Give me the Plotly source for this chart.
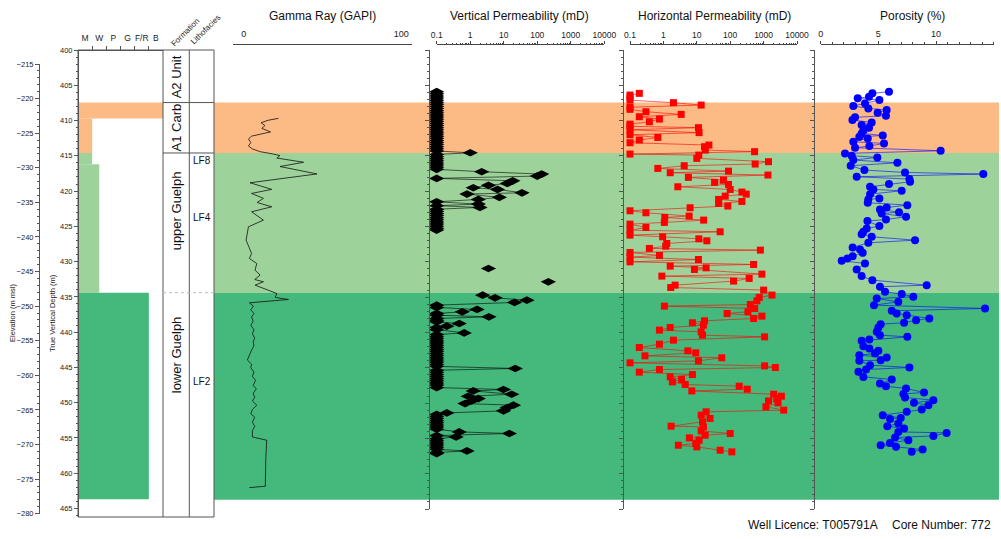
import plotly.graph_objects as go

W, H = 1001, 539
def px(x): return x / W
def py(y): return 1 - y / H

FONT = "Liberation Sans, Arial, sans-serif"
AX = "#555555"

# ---------------- data ----------------
# formation bands (TVD, m)
band_tops = [407.45, 414.6, 434.4]
band_bases = [414.6, 434.4, 463.7]
band_colors = ["#FCBA85", "#9DD39B", "#45B97C"]

formation_names = ["A2 Unit", "A1 Carb", "upper Guelph", "lower Guelph"]
formation_label_depths = [403.8, 411.05, 422.8, 443.2]
lithofacies_names = ["LF8", "LF4", "LF2"]
lithofacies_label_depths = [415.6, 423.7, 447.0]
formation_lines = [407.45, 414.6]
guelph_contact = 434.4

# Dunham texture column
dunham_labels = ["M", "W", "P", "G", "F/R", "B"]
dunham_label_pos = [0.5, 1.5, 2.5, 3.5, 4.5, 5.5]
dunham_tick_pos = [1, 2, 3, 4, 5]
dunham_top = [407.45, 409.7, 414.6, 416.2, 434.4]
dunham_base = [409.7, 414.6, 416.2, 434.4, 463.7]
dunham_texture = [6, 1, 1, 1.5, 5]
dunham_colors = ["#FCBA85", "#FCBA85", "#9DD39B", "#9DD39B", "#45B97C"]

tvd_range = [466.2, 400]
track_range = [465, 400]
elev_range = [-280, -215]

# Gamma ray (depth m, GAPI)
gamma = [(409.68, 22.0), (409.95, 15.5), (410.3, 11.0), (410.7, 13.5), (411.1, 11.5),
         (411.6, 17.0), (412.2, 5.0), (412.6, 3.0), (413.1, 4.5), (413.6, 3.0),
         (414.0, 5.5), (414.4, 10.5), (414.7, 18.0), (414.95, 23.0), (415.3, 21.0),
         (415.9, 38.0), (416.5, 23.0), (417.55, 46.5), (418.8, 4.0), (419.74, 17.8),
         (420.31, 5.0), (421.01, 12.5), (421.6, 8.5), (422.2, 17.8), (422.91, 5.0),
         (424.09, 12.5), (425.04, 3.0), (426.0, 2.0), (426.92, 1.5), (428.0, 3.5),
         (428.81, 5.0), (429.52, 3.6), (430.23, 8.3), (431.17, 7.2), (431.88, 10.4),
         (432.5, 7.0), (432.82, 12.5), (433.3, 7.2), (434.48, 21.0), (435.04, 20.0),
         (435.33, 28.4), (435.8, 3.6), (436.27, 6.1), (436.8, 4.5), (437.3, 6.5),
         (437.8, 5.0), (438.4, 6.0), (439.0, 4.5), (439.6, 6.5), (440.2, 5.5),
         (440.8, 7.0), (441.3, 6.0), (441.9, 6.5), (442.5, 5.0), (443.1, 4.0),
         (443.9, 2.3), (444.5, 5.0), (445.0, 4.5), (445.6, 6.5), (446.2, 5.5),
         (446.8, 7.5), (447.5, 6.0), (448.0, 8.0), (448.6, 6.0), (449.2, 7.0),
         (449.7, 5.5), (450.3, 8.3), (450.9, 5.5), (451.5, 4.5), (452.0, 7.0),
         (452.7, 5.5), (453.3, 7.0), (453.9, 5.5), (454.8, 5.5), (455.26, 14.6),
         (458.0, 14.0), (461.78, 13.7), (461.97, 3.6)]

# Vertical permeability (depth m, mD); None = no sample (line break)
vperm = [(405.9, 0.1), (406.2, 0.1), (406.5, 0.1), (406.8, 0.1), (407.1, 0.1), (407.4, 0.1),
         (407.7, 0.1), (408.0, 0.1), (408.3, 0.1), (408.6, 0.1), (408.9, 0.1), (409.2, 0.1),
         (409.5, 0.1), (409.8, 0.1), (410.1, 0.1), (410.4, 0.1), (410.7, 0.1), (411.0, 0.1),
         (411.3, 0.1), (411.6, 0.1), (411.9, 0.1), (412.2, 0.1), (412.5, 0.1), (412.8, 0.1),
         (413.1, 0.1), (413.4, 0.1), (413.7, 0.1), (414.0, 0.1), (414.3, 0.1), (414.55, 1.0),
         (414.8, 0.1), (415.1, 0.1), (415.4, 0.1), (415.7, 0.1), (416.0, 0.1), (416.3, 0.1),
         (416.6, 0.1), (416.9, 0.1), (417.24, 2.2), (417.57, 135), (417.85, 100), (418.18, 0.1),
         (418.52, 18.6), (418.9, 12.7), (419.17, 3.5), (419.51, 1.23), (419.74, 6.5), (420.22, 35),
         (420.4, 0.8), (420.87, 7.4), (421.16, 1.74), (421.5, 0.1), (421.82, 1.74), (422.05, 0.1),
         (422.29, 1.95), (422.55, 0.1), (422.85, 0.1), (423.15, 0.1), (423.45, 0.1), (423.75, 0.1),
         (424.05, 0.1), (424.35, 0.1), (424.65, 0.1), (424.95, 0.1), (425.25, 0.1), (425.5, 0.1),
         (None, None), (430.94, 3.5), (None, None), (432.83, 214), (None, None),
         (434.72, 2.35), (435.1, 5.5), (435.43, 49), (435.75, 21), (436.13, 0.1), (436.45, 0.1),
         (436.74, 1.6), (437.08, 0.58), (437.31, 0.1), (437.55, 0.1), (437.79, 3.6), (438.02, 0.1),
         (438.26, 0.1), (438.5, 0.1), (438.73, 0.47), (439.11, 0.2), (439.3, 0.1), (439.6, 0.1),
         (440.06, 0.66), (440.3, 0.1), (440.6, 0.1), (440.9, 0.1), (441.2, 0.1), (441.5, 0.1),
         (441.8, 0.1), (442.1, 0.1), (442.4, 0.1), (442.7, 0.1), (443.0, 0.1), (443.3, 0.1),
         (443.6, 0.1), (443.9, 0.1), (444.2, 0.1), (444.5, 0.1), (444.8, 0.1), (445.1, 22),
         (445.35, 0.1), (445.65, 0.1), (445.95, 0.1), (446.25, 0.1), (446.55, 0.1), (446.85, 0.1),
         (447.15, 0.1), (447.45, 0.1), (447.8, 0.1), (448.08, 9.8), (448.28, 1.23), (448.75, 17.3),
         (449.03, 0.87), (449.36, 1.74), (449.7, 1.1), (450.07, 0.7), (450.3, 19.4), (450.63, 12.8),
         (451.1, 9.8), (451.39, 0.2), (451.6, 0.1), (451.9, 0.1), (452.2, 0.1), (452.5, 0.1),
         (452.8, 0.1), (453.1, 0.1), (453.4, 0.1), (453.7, 0.1), (454.08, 0.47), (454.31, 14.7),
         (454.6, 0.1), (454.8, 0.38), (455.05, 0.1), (455.35, 0.1), (455.65, 0.1), (455.95, 0.1),
         (456.25, 0.1), (456.55, 0.1), (456.78, 0.8), (457.0, 0.1), (457.15, 0.1)]

# Horizontal permeability (depth m, mD)
hperm = [(406.14, 0.19), (406.38, 0.1), (406.75, 0.1), (407.1, 0.1), (407.46, 2.0), (407.8, 13.5),
         (408.1, 0.1), (408.4, 0.1), (408.74, 0.3), (409.12, 3.4), (409.45, 0.19), (409.78, 0.76),
         (410.16, 0.38), (410.5, 0.1), (410.8, 0.1), (411.0, 11.2), (411.3, 0.1), (411.7, 11.7),
         (412.0, 0.1), (412.38, 0.68), (412.75, 0.19), (413.13, 0.1), (413.46, 23), (413.7, 17),
         (414.17, 18), (414.4, 537), (414.74, 0.1), (414.88, 11.5), (415.35, 10), (415.82, 1400),
         (416.15, 560), (416.39, 4.2), (416.77, 0.68), (417.15, 89), (417.38, 1.6), (417.71, 1350),
         (418.04, 5.6), (418.42, 63), (418.75, 34), (419.04, 89), (419.37, 2.7), (419.75, 100),
         (420.12, 224), (420.41, 302), (420.69, 71), (421.16, 45), (421.45, 224), (421.73, 45),
         (422.1, 85), (422.34, 6.3), (422.77, 0.1), (423.05, 0.3), (423.52, 5.9), (423.71, 1.1),
         (424.09, 16), (424.42, 1.07), (424.66, 0.1), (425.13, 0.3), (425.51, 0.1), (425.74, 50),
         (426.22, 0.1), (426.45, 0.95), (426.74, 11.5), (427.02, 20), (427.4, 1.26), (427.78, 1.17),
         (428.1, 0.38), (428.34, 800), (428.67, 0.1), (429.1, 0.76), (429.33, 0.1), (429.67, 11.2),
         (430.0, 0.1), (430.37, 500), (430.61, 1.6), (430.85, 19), (431.08, 8.5), (431.74, 890),
         (432.02, 0.9), (432.35, 370), (432.73, 126), (433.3, 2.24), (433.63, 1.66), (434.0, 1000),
         (434.71, 1780), (435.04, 740), (435.52, 630), (436.04, 400), (436.27, 1.07), (436.6, 540),
         (437.07, 340), (437.31, 81), (437.69, 890), (438.02, 500), (438.35, 17), (438.63, 7.4),
         (438.96, 15.8), (439.3, 1.6), (439.67, 0.76), (439.91, 13.5), (440.38, 14.8), (440.62, 1070),
         (441.09, 2.0), (441.66, 0.76), (442.13, 0.19), (442.6, 5.4), (442.88, 9.3), (443.31, 0.28),
         (443.59, 56), (444.02, 11.2), (444.3, 0.1), (444.73, 1070), (444.96, 2240), (445.25, 0.76),
         (445.62, 0.19), (445.96, 7.4), (446.29, 1.6), (446.66, 3.5), (447.0, 1.86), (447.37, 4.5),
         (447.61, 186), (448.03, 324), (448.28, 7.1), (448.75, 2000), (449.03, 3400), (449.36, 2500),
         (449.69, 1400), (449.97, 2700), (450.53, 1175), (451.0, 4000), (451.24, 19), (451.71, 13.5),
         (452.18, 25), (452.65, 14.8), (453.27, 1.7), (453.37, 15.8), (453.94, 13.5), (454.31, 100),
         (454.55, 17.8), (454.93, 6), (455.26, 11.7), (455.73, 9.3), (455.97, 2.8), (456.2, 10),
         (456.67, 50), (456.91, 112)]

# Porosity (depth m, %)
poro = [(405.9, 5.92), (406.14, 4.48), (406.61, 4.19), (406.85, 3.21), (407.09, 5.09), (407.56, 3.84),
        (407.94, 2.83), (408.27, 4.13), (408.5, 5.72), (408.88, 4.94), (409.3, 5.66), (409.54, 2.98),
        (409.92, 2.75), (410.25, 4.42), (410.63, 3.55), (411.0, 4.19), (411.43, 3.7), (411.81, 3.55),
        (412.1, 5.38), (412.3, 3.35), (412.52, 4.08), (412.99, 2.83), (413.23, 5.49), (413.6, 4.22),
        (413.84, 2.98), (414.27, 10.4), (414.64, 2.11), (414.97, 2.69), (415.21, 4.91), (415.59, 2.83),
        (415.97, 6.65), (416.39, 2.6), (417.0, 3.79), (417.34, 7.31), (417.57, 14.1), (417.95, 3.12),
        (418.28, 7.69), (418.66, 7.75), (418.99, 5.92), (419.37, 4.28), (419.75, 4.57), (419.93, 7.02),
        (420.41, 4.28), (421.02, 5.09), (421.16, 4.13), (421.63, 4.08), (421.97, 7.51), (422.3, 5.72),
        (422.58, 5.14), (422.96, 6.79), (423.15, 5.29), (423.62, 7.4), (424.0, 5.66), (424.23, 4.05),
        (424.94, 5.09), (425.27, 3.99), (425.74, 3.7), (426.08, 3.55), (426.45, 4.42), (426.93, 8.18),
        (427.3, 4.13), (427.96, 2.77), (428.25, 3.41), (428.72, 3.64), (429.19, 2.77), (429.52, 2.31),
        (429.85, 1.82), (430.23, 3.84), (431.08, 3.12), (432.02, 3.55), (432.59, 4.48), (433.3, 9.19),
        (433.53, 5.14), (434.24, 5.58), (434.57, 7.02), (434.95, 8.03), (435.19, 4.86), (435.66, 6.73),
        (436.13, 4.62), (436.6, 14.25), (436.93, 6.16), (437.31, 6.59), (437.55, 7.46), (438.02, 9.42),
        (438.26, 8.27), (438.63, 7.23), (438.82, 5.2), (439.3, 5.0), (439.91, 4.86), (440.38, 5.14),
        (440.62, 7.51), (441.0, 4.22), (441.18, 3.55), (441.94, 3.7), (442.27, 4.22), (442.6, 5.0),
        (442.98, 4.71), (443.21, 3.35), (443.55, 5.72), (443.93, 5.2), (444.02, 3.35), (444.63, 4.28),
        (444.96, 7.69), (445.25, 3.93), (445.58, 3.27), (446.29, 3.7), (446.66, 6.16), (447.23, 5.14),
        (447.61, 5.66), (447.94, 7.4), (448.5, 8.96), (448.7, 7.17), (449.21, 7.31), (449.59, 9.77),
        (449.97, 8.09), (450.3, 9.34), (450.91, 8.76), (451.24, 7.46), (451.71, 5.38), (452.1, 6.94),
        (452.25, 6.01), (452.9, 6.73), (453.27, 5.78), (453.6, 7.23), (454.08, 6.73), (454.22, 10.92),
        (454.65, 9.77), (454.88, 6.45), (455.26, 7.6), (455.64, 6.01), (455.97, 5.2), (456.2, 6.53),
        (456.58, 8.84), (456.91, 7.89)]

gamma_ticks = [0, 100]
gamma_range = [-6.8, 106.8]
perm_ticks = [0.1, 1, 10, 100, 1000, 10000]
perm_ticklabels = ["0.1", "1", "10", "100", "1000", "10000"]
poro_ticks = [0, 5, 10]
poro_range = [0, 15]

track_titles = ["Gamma Ray (GAPI)", "Vertical Permeability (mD)",
                "Horizontal Permeability (mD)", "Porosity (%)"]
footer = ["Well Licence: T005791A", "Core Number: 772"]

# ---------------- figure ----------------
def unzip(pairs):
    return [p[0] for p in pairs], [p[1] for p in pairs]

fig = go.Figure()

# Dunham texture fills
for t, b, w, c in zip(dunham_top, dunham_base, dunham_texture, dunham_colors):
    fig.add_trace(go.Scatter(x=[0, w, w, 0, 0], y=[t, t, b, b, t], fill="toself",
                             fillcolor=c, mode="lines", line=dict(width=0),
                             xaxis="x", yaxis="y", hoverinfo="skip"))

# elevation axis carrier (invisible)
fig.add_trace(go.Scatter(x=[0, 0], y=elev_range, mode="markers", marker=dict(opacity=0),
                         xaxis="x", yaxis="y6", hoverinfo="skip"))

gd, gv = unzip(gamma)
fig.add_trace(go.Scatter(x=gv, y=gd, mode="lines", line=dict(color="#111111", width=0.8),
                         xaxis="x2", yaxis="y2", cliponaxis=False))

vd, vv = unzip(vperm)
fig.add_trace(go.Scatter(x=vv, y=vd, mode="lines+markers",
                         line=dict(color="black", width=0.6),
                         marker=dict(symbol="diamond-wide", size=11, color="black"),
                         xaxis="x3", yaxis="y3", cliponaxis=False, connectgaps=False))

hd, hv = unzip(hperm)
fig.add_trace(go.Scatter(x=hv, y=hd, mode="lines+markers",
                         line=dict(color="#FF0000", width=0.6),
                         marker=dict(symbol="square", size=7, color="#FF0000"),
                         xaxis="x4", yaxis="y4", cliponaxis=False))

pd_, pv = unzip(poro)
fig.add_trace(go.Scatter(x=pv, y=pd_, mode="lines+markers",
                         line=dict(color="#0000FF", width=0.6),
                         marker=dict(symbol="circle", size=8, color="#0000FF"),
                         xaxis="x5", yaxis="y5", cliponaxis=False))

ydom_track = [py(509), py(50)]
perm_minor = [m * 10.0 ** e for e in range(-1, 4) for m in range(2, 10)]

common_y = dict(showgrid=False, zeroline=False, showline=True, linecolor=AX, linewidth=1,
                ticks="outside", tickcolor=AX, ticklen=4, tick0=400, dtick=5, automargin=False,
                showticklabels=False, minor=dict(ticks="outside", ticklen=2, dtick=1, tickcolor=AX),
                range=track_range, domain=ydom_track, anchor="free")

fig.update_layout(
    template="none",
    width=W, height=H, margin=dict(l=0, r=0, t=0, b=0, pad=0), autosize=False,
    paper_bgcolor="white", plot_bgcolor="rgba(0,0,0,0)", showlegend=False,
    font=dict(family=FONT, color="#222222"),
    xaxis=dict(domain=[px(78), px(163)], range=[0, 6], anchor="free", position=py(50), side="top",
               showline=True, linecolor=AX, showgrid=False, zeroline=False, automargin=False,
               tickvals=dunham_label_pos, ticktext=dunham_labels, ticks="outside", ticklen=6,
               tickcolor="rgba(0,0,0,0)", tickfont=dict(size=8.5),
               minor=dict(tickmode="array", tickvals=dunham_tick_pos, ticks="outside",
                          ticklen=4, tickcolor=AX)),
    yaxis=dict(domain=[py(517), py(50)], range=tvd_range, anchor="free", position=px(78),
               showline=True, linecolor=AX, showgrid=False, zeroline=False, automargin=False,
               ticks="outside", ticklen=4, tickcolor=AX, tick0=400, dtick=5,
               tickfont=dict(size=7.5), minor=dict(ticks="outside", ticklen=2, dtick=1, tickcolor=AX)),
    yaxis6=dict(domain=[py(513.7), py(64)], range=elev_range, anchor="free", position=px(39),
                showline=True, linecolor=AX, showgrid=False, zeroline=False, automargin=False,
                ticks="outside", ticklen=4, tickcolor=AX, tick0=-215, dtick=5,
                tickfont=dict(size=7.5), minor=dict(ticks="outside", ticklen=2, dtick=1, tickcolor=AX)),
    xaxis2=dict(domain=[px(233), px(412)], range=gamma_range, anchor="free", position=py(44),
                side="top", showline=True, linecolor="#444444", showgrid=False, zeroline=False,
                automargin=False,
                tickvals=gamma_ticks, ticktext=[str(v) for v in gamma_ticks], ticks="outside",
                ticklen=3, tickcolor="rgba(0,0,0,0)", tickfont=dict(size=9)),
    yaxis2=dict(domain=ydom_track, range=track_range, anchor="x2", visible=False, automargin=False),
    xaxis3=dict(type="log", domain=[px(436.7), px(604.3)], range=[-1, 4], anchor="free",
                position=py(44), side="top", showline=True, linecolor="#444444", showgrid=False,
                zeroline=False, automargin=False, tickvals=perm_ticks, ticktext=perm_ticklabels,
                ticks="outside", ticklen=3, tickcolor="#444444", tickfont=dict(size=8.5),
                minor=dict(tickmode="array", tickvals=perm_minor, ticks="outside", ticklen=1.5,
                           tickcolor="#444444")),
    yaxis3=dict(position=px(429), **common_y),
    xaxis4=dict(type="log", domain=[px(630), px(797)], range=[-1, 4], anchor="free",
                position=py(44), side="top", showline=True, linecolor="#444444", showgrid=False,
                zeroline=False, automargin=False, tickvals=perm_ticks, ticktext=perm_ticklabels,
                ticks="outside", ticklen=3, tickcolor="#444444", tickfont=dict(size=8.5),
                minor=dict(tickmode="array", tickvals=perm_minor, ticks="outside", ticklen=1.5,
                           tickcolor="#444444")),
    yaxis4=dict(position=px(623), **common_y),
    xaxis5=dict(domain=[px(820.7), px(993.7)], range=poro_range, anchor="free", position=py(44),
                side="top", showline=True, linecolor="#444444", showgrid=False, zeroline=False,
                automargin=False,
                tickvals=poro_ticks, ticktext=[str(v) for v in poro_ticks], ticks="outside",
                ticklen=3, tickcolor="#444444", tickfont=dict(size=9),
                minor=dict(ticks="outside", ticklen=2, dtick=1, tick0=0, tickcolor="#444444")),
    yaxis5=dict(position=px(814), **common_y),
)

shapes = []
for t, b, c in zip(band_tops, band_bases, band_colors):
    shapes.append(dict(type="rect", xref="paper", yref="y2", x0=px(214), x1=px(999),
                       y0=t, y1=b, fillcolor=c, line=dict(width=0), layer="below"))
# column frame
shapes.append(dict(type="rect", xref="paper", yref="paper", x0=px(78), x1=px(214),
                   y0=py(517), y1=py(50), line=dict(color=AX, width=1)))
for xv in (163, 189.3):
    shapes.append(dict(type="line", xref="paper", yref="paper", x0=px(xv), x1=px(xv),
                       y0=py(517), y1=py(50), line=dict(color=AX, width=1)))
for d in formation_lines:
    shapes.append(dict(type="line", xref="paper", yref="y", x0=px(163), x1=px(214),
                       y0=d, y1=d, line=dict(color=AX, width=1)))
shapes.append(dict(type="line", xref="paper", yref="y", x0=px(163), x1=px(214),
                   y0=guelph_contact, y1=guelph_contact, line=dict(color="#BBBBBB", width=1, dash="dot")))
fig.update_layout(shapes=shapes)

C = dict(xanchor="center", yanchor="middle", showarrow=False)
ann = []
for name, d in zip(formation_names, formation_label_depths):
    ann.append(dict(text=name, xref="paper", yref="y", x=px(176.5), y=d, textangle=-90,
                    font=dict(size=13, color="#111111"), **C))
for name, d in zip(lithofacies_names, lithofacies_label_depths):
    ann.append(dict(text=name, xref="paper", yref="y", x=px(201.5), y=d,
                    font=dict(size=10, color="#111111"), **C))
ann.append(dict(text="Formation", xref="paper", yref="paper", x=px(185), y=py(32),
                textangle=-45, font=dict(size=8), **C))
ann.append(dict(text="Lithofacies", xref="paper", yref="paper", x=px(206), y=py(30),
                textangle=-45, font=dict(size=8), **C))
ann.append(dict(text="Elevation (m msl)", xref="paper", yref="paper", x=px(12), y=py(313),
                textangle=-90, font=dict(size=7.5), **C))
ann.append(dict(text="True Vertical Depth (m)", xref="paper", yref="paper", x=px(52), y=py(313),
                textangle=-90, font=dict(size=7.5), **C))
for title, xc in zip(track_titles, [322, 519, 714, 912]):
    ann.append(dict(text=title, xref="paper", yref="paper", x=px(xc), y=py(16),
                    font=dict(size=12, color="#111111"), **C))
ann.append(dict(text=footer[0], xref="paper", yref="paper", x=px(812.5), y=py(525),
                font=dict(size=12, color="#111111"), **C))
ann.append(dict(text=footer[1], xref="paper", yref="paper", x=px(941), y=py(525),
                font=dict(size=12, color="#111111"), **C))
fig.update_layout(annotations=ann)

fig.write_html("out.html")
